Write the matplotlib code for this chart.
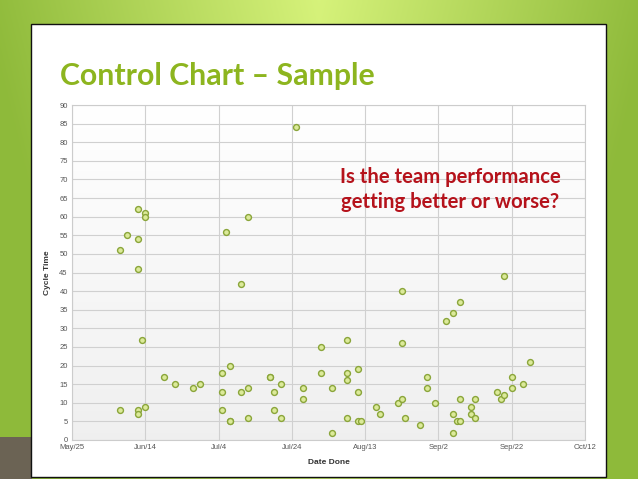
import numpy as np
import pandas as pd
import matplotlib
matplotlib.use("Agg")
import matplotlib.pyplot as plt
from matplotlib.patches import Rectangle

# ---- data ----
dates = [
    "2013-07-25", "2013-06-12", "2013-06-14", "2013-06-14", "2013-06-09", "2013-06-12",
    "2013-06-07", "2013-06-12", "2013-07-06", "2013-07-12", "2013-07-10", "2013-06-13",
    "2013-06-07", "2013-06-12", "2013-06-12", "2013-06-14", "2013-06-19", "2013-06-22",
    "2013-06-27", "2013-06-29", "2013-07-05", "2013-07-07", "2013-07-05", "2013-07-05",
    "2013-07-07", "2013-07-07", "2013-07-10", "2013-07-12", "2013-07-12", "2013-07-18",
    "2013-07-18", "2013-07-19", "2013-07-19", "2013-07-21", "2013-07-21", "2013-07-27",
    "2013-07-27", "2013-08-01", "2013-08-01", "2013-09-20", "2013-08-23", "2013-09-08",
    "2013-09-06", "2013-09-04", "2013-08-08", "2013-08-23", "2013-09-27", "2013-08-08",
    "2013-08-08", "2013-08-11", "2013-08-11", "2013-08-04", "2013-08-08", "2013-08-11",
    "2013-08-12", "2013-08-04", "2013-08-16", "2013-08-17", "2013-08-22", "2013-08-23",
    "2013-08-24", "2013-08-28", "2013-08-30", "2013-08-30", "2013-09-01", "2013-09-06",
    "2013-09-06", "2013-09-07", "2013-09-08", "2013-09-08", "2013-09-11", "2013-09-11",
    "2013-09-12", "2013-09-12", "2013-09-18", "2013-09-19", "2013-09-20", "2013-09-22",
    "2013-09-22", "2013-09-25",
]
cycle_time = [
    84, 62, 61, 60, 55, 54,
    51, 46, 56, 60, 42, 27,
    8, 8, 7, 9, 17, 15,
    14, 15, 18, 20, 13, 8,
    5, 5, 13, 14, 6, 17,
    17, 13, 8, 15, 6, 14,
    11, 25, 18, 44, 40, 37,
    34, 32, 27, 26, 21, 18,
    16, 19, 13, 14, 6, 5,
    5, 2, 9, 7, 10, 11,
    6, 4, 17, 14, 10, 7,
    2, 5, 5, 11, 9, 7,
    6, 11, 13, 11, 12, 14,
    17, 15,
]
tick_dates = ["2013-05-25", "2013-06-14", "2013-07-04", "2013-07-24",
              "2013-08-13", "2013-09-02", "2013-09-22", "2013-10-12"]
tick_labels = ["May/25", "Jun/14", "Jul/4", "Jul/24", "Aug/13", "Sep/2", "Sep/22", "Oct/12"]
y_ticks = list(range(0, 95, 5))

title = "Control Chart – Sample"
question_lines = ["Is the team performance", "getting better or worse?"]

# ---- figure ----
W, H = 638, 479
fig = plt.figure(figsize=(W / 100, H / 100), dpi=100)

# green gradient background
bg = fig.add_axes([0, 0, 1, 1], zorder=-10)
xs = np.linspace(-1, 1, 400)
ys = np.linspace(0, 1, 300)
X, Y = np.meshgrid(xs, ys)
t = np.clip(1 - np.abs(X) * 0.95 - Y * 0.35, 0, 1)
c_dark = np.array([0.56, 0.73, 0.23])
c_light = np.array([0.84, 0.95, 0.48])
img = c_dark[None, None, :] + (c_light - c_dark)[None, None, :] * t[:, :, None]
bg.imshow(img, aspect="auto", extent=[0, 1, 0, 1], origin="upper")
bg.set_xlim(0, 1)
bg.set_ylim(0, 1)
bg.axis("off")

# dark block bottom-left
fig.patches.append(Rectangle((0, 0), 32 / W, (479 - 437) / H, transform=fig.transFigure,
                             facecolor="#6b6354", edgecolor="none", zorder=-5))
# white panel
fig.patches.append(Rectangle((31 / W, 1 - 477 / H), (606 - 31) / W, (477 - 24) / H,
                             transform=fig.transFigure, facecolor="white",
                             edgecolor="#111111", linewidth=1.0, zorder=-4))

fig.text(60 / W, 1 - 85 / H, title, fontsize=21.8, fontweight="bold",
         family=["Lato", "DejaVu Sans"], color="#8db51f", ha="left", va="baseline")

# ---- chart ----
ax = fig.add_axes([72 / W, 1 - 440 / H, (585 - 72) / W, (440 - 105) / H])
# subtle white-to-grey plot-area gradient
grad = np.linspace(1.0, 0.94, 200)[:, None, None] * np.ones((1, 2, 3))
ax.imshow(grad, aspect="auto", extent=[0, 1, 0, 1], transform=ax.transAxes,
          origin="upper", zorder=0)
x = pd.to_datetime(dates)
ax.scatter(x, cycle_time, s=18, facecolor="#dcea9a", edgecolor="#8aa53a",
           linewidth=1.0, zorder=3)

tick_pos = pd.to_datetime(tick_dates)
ax.set_xlim(tick_pos[0], tick_pos[-1])
ax.set_ylim(0, 90)
ax.set_aspect("auto")
ax.set_xticks(tick_pos)
ax.set_xticklabels(tick_labels)
ax.set_yticks(y_ticks)
ax.grid(True, color="#d0d0d0", linewidth=0.8, zorder=1)
ax.set_axisbelow(True)
for s in ax.spines.values():
    s.set_color("#cccccc")
    s.set_linewidth(0.8)
ax.tick_params(length=0, labelsize=5.5, colors="#555555", pad=3)
for lab in ax.get_xticklabels() + ax.get_yticklabels():
    lab.set_family(["Liberation Sans", "DejaVu Sans"])
ax.set_xlabel("Date Done", fontsize=6, fontweight="bold", color="#333333",
              family=["Liberation Sans", "DejaVu Sans"], labelpad=6)
ax.set_ylabel("Cycle Time", fontsize=6, fontweight="bold", color="#333333",
              family=["Liberation Sans", "DejaVu Sans"], labelpad=6)

for i, line in enumerate(question_lines):
    fig.text(450 / W, 1 - (183 + 25 * i) / H, line, fontsize=14.6, fontweight="bold",
             family=["Lato", "DejaVu Sans"], color="#b5121b", ha="center", va="baseline")

fig.savefig("out.png", dpi=100)
